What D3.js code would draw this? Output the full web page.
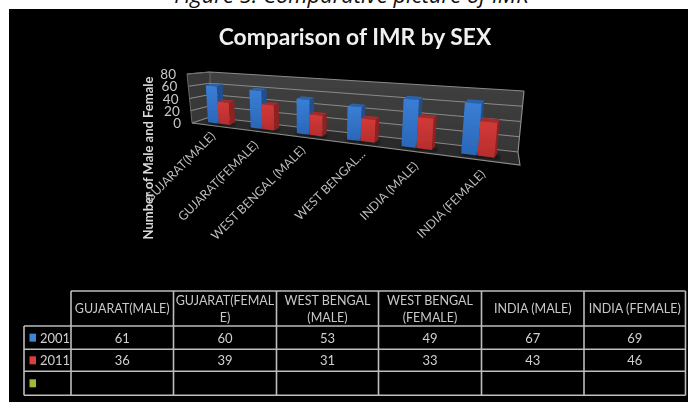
<!DOCTYPE html>
<html>
<head>
<meta charset="utf-8">
<script src="https://cdn.jsdelivr.net/npm/d3@7"></script>
<style>
  html, body { margin: 0; padding: 0; background: #fff; }
  svg { display: block; }
  text { font-family: Lato, "Open Sans", sans-serif; }
</style>
</head>
<body>
<svg id="chart" width="688" height="402"></svg>
<script>
// values
const categories = ["GUJARAT(MALE)", "GUJARAT(FEMALE)", "WEST BENGAL (MALE)", "WEST BENGAL...", "INDIA (MALE)", "INDIA (FEMALE)"];
const tableHeaders = [["GUJARAT(MALE)"], ["GUJARAT(FEMAL", "E)"], ["WEST BENGAL", "(MALE)"], ["WEST BENGAL", "(FEMALE)"], ["INDIA (MALE)"], ["INDIA (FEMALE)"]];
const seriesNames = ["2001", "2011"];
const values2001 = [61, 60, 53, 49, 67, 69];
const values2011 = [36, 39, 31, 33, 43, 46];
const yTicks = [0, 20, 40, 60, 80];

const svg = d3.select("#chart");
const defs = svg.append("defs");
defs.append("filter").attr("id", "soft")
    .attr("x", "-5%").attr("y", "-5%").attr("width", "110%").attr("height", "110%")
    .append("feGaussianBlur").attr("stdDeviation", 0.55);
defs.append("filter").attr("id", "shadow")
    .attr("x", "-40%").attr("y", "-80%").attr("width", "180%").attr("height", "260%")
    .append("feGaussianBlur").attr("stdDeviation", 1.6);

function vGrad(id, top, bottom) {
    const g = defs.append("linearGradient").attr("id", id)
        .attr("x1", 0).attr("y1", 0).attr("x2", 0).attr("y2", 1);
    g.append("stop").attr("offset", "0%").attr("stop-color", top);
    g.append("stop").attr("offset", "100%").attr("stop-color", bottom);
}
vGrad("wallGrad", "#414141", "#363636");
vGrad("blueFront", "#3a7fd6", "#2a66b8");
vGrad("redFront", "#d23a38", "#b82c2c");

// caption sits on the white strip, the black slide cuts its descenders
svg.append("text").attr("x", 351.5).attr("y", 3).attr("text-anchor", "middle")
    .attr("font-style", "italic").attr("font-size", 22).attr("fill", "#111")
    .style("font-family", "'Open Sans', sans-serif")
    .text("Figure 5: Comparative picture of IMR");
svg.append("rect").attr("x", 9).attr("y", 9).attr("width", 679).attr("height", 393).attr("fill", "#000");

const root = svg.append("g").attr("filter", "url(#soft)");

root.append("text").attr("x", 355).attr("y", 45).attr("text-anchor", "middle")
    .attr("font-size", 22.8).attr("font-weight", 700).attr("fill", "#f0f0f0")
    .text("Comparison of IMR by SEX");

// ---- perspective box: corners of the 3D plot on screen
const corners = {
    backTopLeft: [210, 72], backTopRight: [524, 91],
    backBottomLeft: [210, 117], backBottomRight: [518, 152],
    frontTopLeft: [187, 74], frontTopRight: [526, 103],
    frontBottomLeft: [192, 123], frontBottomRight: [520, 165]
};
const yScale = d3.scaleLinear().domain([0, 80]).range([0, 1]);
const persp = 1.3;
const warp = u => u / (persp - (persp - 1) * u);

// u: 0..1 across categories, v: data value, d: 0 front .. 1 back
function project(u, v, d) {
    const t = warp(u), h = yScale(v);
    const mix = (a, b, k) => [a[0] + (b[0] - a[0]) * k, a[1] + (b[1] - a[1]) * k];
    const back = mix(mix(corners.backBottomLeft, corners.backBottomRight, t),
                     mix(corners.backTopLeft, corners.backTopRight, t), h);
    const front = mix(mix(corners.frontBottomLeft, corners.frontBottomRight, t),
                      mix(corners.frontTopLeft, corners.frontTopRight, t), h);
    return mix(front, back, d);
}
const poly = pts => d3.line()(pts) + "Z";

const x0 = d3.scaleBand().domain(categories).range([0, 0.98]).paddingInner(0.48).paddingOuter(0.25);
const x1 = d3.scaleBand().domain(seriesNames).range([0, x0.bandwidth()]);

// walls and floor
const plot = root.append("g");
plot.append("path").attr("fill", "url(#wallGrad)")
    .attr("d", poly([project(0, 0, 1), project(1, 0, 1), project(1, 80, 1), project(0, 80, 1)]));
plot.append("path").attr("fill", "#383838")
    .attr("d", poly([project(0, 0, 0), project(0, 0, 1), project(0, 80, 1), project(0, 80, 0)]));
plot.append("path").attr("fill", "#2a2a2a")
    .attr("d", poly([project(0, 0, 0), project(1, 0, 0), project(1, 0, 1), project(0, 0, 1)]));

// gridlines run along left wall then back wall
plot.selectAll("path.grid").data(yTicks).enter().append("path")
    .attr("class", "grid").attr("fill", "none").attr("stroke", "#8a8a8a").attr("stroke-width", 1.1)
    .attr("d", v => d3.line()([project(0, v, 0), project(0, v, 1), project(1, v, 1)]));
plot.append("path").attr("fill", "none").attr("stroke", "#8f8f8f").attr("stroke-width", 1.1)
    .attr("d", d3.line()([project(0, 0, 0), project(1, 0, 0), project(1, 0, 1), project(1, 80, 1)]));
plot.append("path").attr("fill", "none").attr("stroke", "#6e6e6e").attr("stroke-width", 0.9)
    .attr("d", d3.line()([project(0, 0, 0), project(0, 80, 0), project(0, 80, 1), project(0, 0, 1)]));

// bars
const barFront = 0.33, barBack = 0.5;
const barColors = {
    "2001": { front: "url(#blueFront)", side: "#234f8c", top: "#2c64ac" },
    "2011": { front: "url(#redFront)", side: "#8c2222", top: "#a62a2a" }
};
const barRows = categories.flatMap((c, i) => [
    { c, s: "2001", v: values2001[i] },
    { c, s: "2011", v: values2011[i] }
]);
// the rear edge of a bar is nudged so its side and top stay visible towards the right
const rear = (u, v) => {
    const p = project(u, v, barBack);
    return [p[0] + 2.5, p[1] - 1.5];
};
const bars = plot.selectAll("g.bar").data(barRows).enter().append("g").attr("class", "bar");
bars.each(function(b) {
    const g = d3.select(this);
    const a = x0(b.c) + x1(b.s), e = a + x1.bandwidth();
    g.append("path").attr("fill", "#0e0e0e").attr("filter", "url(#shadow)")
        .attr("d", poly([project(a, 0, barFront - 0.08), project(e + 0.012, 0, barFront - 0.08),
                         project(e + 0.012, 0, barBack), project(a, 0, barBack)]));
    g.append("path").attr("fill", barColors[b.s].side)
        .attr("d", poly([project(e, 0, barFront), rear(e, 0), rear(e, b.v), project(e, b.v, barFront)]));
    g.append("path").attr("fill", barColors[b.s].top)
        .attr("d", poly([project(a, b.v, barFront), project(e, b.v, barFront), rear(e, b.v), rear(a, b.v)]));
    g.append("path").attr("fill", barColors[b.s].front)
        .attr("d", poly([project(a, 0, barFront), project(e, 0, barFront), project(e, b.v, barFront), project(a, b.v, barFront)]));
});

// y tick labels follow the front edge of the left wall
root.selectAll("text.ytick").data(yTicks).enter().append("text")
    .attr("class", "ytick").attr("text-anchor", "end").attr("font-size", 13.5).attr("fill", "#c8c8c8")
    .attr("x", v => project(0, v, 0)[0] - 11)
    .attr("y", v => project(0, v, 0)[1] + 5)
    .text(v => v);

root.append("text").attr("transform", "translate(153,158) rotate(-90)")
    .attr("text-anchor", "middle").attr("font-size", 13).attr("font-weight", 700).attr("fill", "#d9d9d9")
    .text("Number of Male and Female");

// category labels, anchored by their upper right end
const labelEnds = [[216, 137], [259, 146], [306, 151], [366, 155], [419, 167], [486, 175]];
root.selectAll("text.cat").data(categories).enter().append("text")
    .attr("class", "cat").attr("text-anchor", "end").attr("font-size", 12.3).attr("fill", "#bdbdbd")
    .attr("transform", (d, i) => `translate(${labelEnds[i][0]},${labelEnds[i][1]}) rotate(-45)`)
    .text(d => d);

// ---- data table under the chart
const colEdges = [24, 71, 173.5, 276.5, 378.5, 481.5, 584, 685.5];
const rowEdges = [291, 326, 349.3, 371.3, 395.3];
const table = root.append("g");
const lineColor = "#bdbdbd";
const tline = (x1_, y1_, x2_, y2_) => table.append("line")
    .attr("x1", x1_).attr("y1", y1_).attr("x2", x2_).attr("y2", y2_)
    .attr("stroke", lineColor).attr("stroke-width", 1.6);

rowEdges.forEach((y, i) => tline(i === 0 ? colEdges[1] : colEdges[0], y, colEdges[7], y));
colEdges.forEach((x, i) => tline(x, i === 0 ? rowEdges[1] : rowEdges[0], x, rowEdges[4]));

const colMid = i => (colEdges[i + 1] + colEdges[i + 2]) / 2;
tableHeaders.forEach((lines, i) => {
    const cy = (rowEdges[0] + rowEdges[1]) / 2;
    lines.forEach((line, k) => {
        table.append("text").attr("x", colMid(i))
            .attr("y", cy + 4.5 + (k - (lines.length - 1) / 2) * 17)
            .attr("text-anchor", "middle").attr("font-size", 12.5).attr("fill", "#c8c8c8")
            .text(line);
    });
});

const rows = [
    { name: seriesNames[0], vals: values2001, key: "#3f86d8" },
    { name: seriesNames[1], vals: values2011, key: "#d8403c" },
    { name: "", vals: [], key: "#9bbb3b" }
];
rows.forEach((r, ri) => {
    const top = rowEdges[ri + 1], bot = rowEdges[ri + 2], cy = (top + bot) / 2;
    table.append("rect").attr("x", 29.5).attr("y", cy - 4).attr("width", 6.5).attr("height", 8).attr("fill", r.key);
    table.append("text").attr("x", 40).attr("y", cy + 5).attr("font-size", 13).attr("fill", "#d0d0d0").text(r.name);
    r.vals.forEach((v, i) => {
        table.append("text").attr("x", colMid(i)).attr("y", cy + 5)
            .attr("text-anchor", "middle").attr("font-size", 13).attr("fill", "#d0d0d0").text(v);
    });
});
</script>
</body>
</html>
